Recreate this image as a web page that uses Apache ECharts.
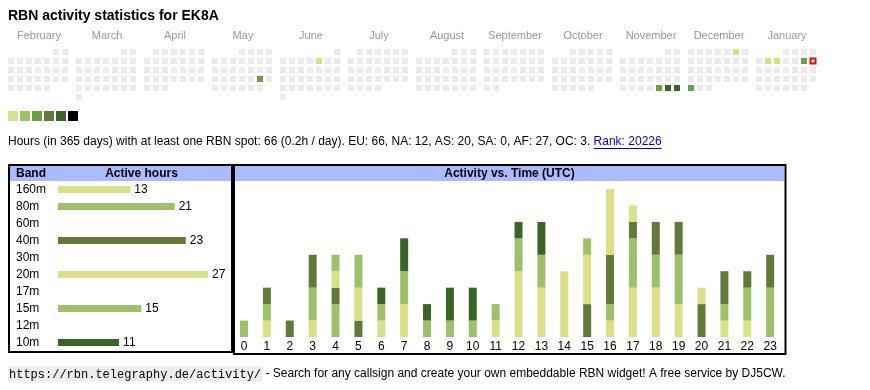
<!DOCTYPE html>
<html><head><meta charset="utf-8">
<script src="https://cdn.jsdelivr.net/npm/echarts@6/dist/echarts.min.js"></script>
<style>html,body{margin:0;padding:0;background:#fff}#c{width:870px;height:390px}</style>
</head><body><div id="c"></div>
<script>
// ---------- data ----------
const titleText = 'RBN activity statistics for EK8A';
const monthNames = ['February','March','April','May','June','July','August','September','October','November','December','January'];
const monthKeys = ['2025-02','2025-03','2025-04','2025-05','2025-06','2025-07','2025-08','2025-09','2025-10','2025-11','2025-12','2026-01'];
const activeDays = ['2025-05-24','2025-06-06','2025-11-28','2025-11-29','2025-11-30','2025-12-06','2025-12-29','2026-01-06','2026-01-07','2026-01-10'];
const activeDayHours = [6,2,6,17,17,2,6,2,2,6];
const today = '2026-01-11';

const bands = ['160m','80m','60m','40m','30m','20m','17m','15m','12m','10m'];
const bandHours = [13,21,0,23,0,27,0,15,0,11];

const hours = ['0','1','2','3','4','5','6','7','8','9','10','11','12','13','14','15','16','17','18','19','20','21','22','23'];
const hourly160m = [0,1,0,1,0,0,0,0,0,0,0,0,0,0,0,0,1,3,3,2,0,1,1,0];
const hourly80m  = [1,1,0,2,2,0,0,0,0,0,0,0,0,0,0,0,1,3,2,3,0,1,2,3];
const hourly60m  = [0,0,0,0,0,0,0,0,0,0,0,0,0,0,0,0,0,0,0,0,0,0,0,0];
const hourly40m  = [0,1,1,2,1,1,0,0,0,0,0,0,0,0,0,2,3,1,2,2,2,2,1,2];
const hourly30m  = [0,0,0,0,0,0,0,0,0,0,0,0,0,0,0,0,0,0,0,0,0,0,0,0];
const hourly20m  = [0,0,0,0,1,2,1,2,0,0,0,1,4,3,4,3,4,1,0,0,1,0,0,0];
const hourly17m  = [0,0,0,0,0,0,0,0,0,0,0,0,0,0,0,0,0,0,0,0,0,0,0,0];
const hourly15m  = [0,0,0,0,1,2,1,2,1,1,1,1,2,2,0,1,0,0,0,0,0,0,0,0];
const hourly12m  = [0,0,0,0,0,0,0,0,0,0,0,0,0,0,0,0,0,0,0,0,0,0,0,0];
const hourly10m  = [0,0,0,0,0,0,1,2,1,2,2,0,1,2,0,0,0,0,0,0,0,0,0,0];

const statsText = 'Hours (in 365 days) with at least one RBN spot: 66 (0.2h / day). EU: 66, NA: 12, AS: 20, SA: 0, AF: 27, OC: 3. ';
const rankText = 'Rank: 20226';
const footerUrl = 'https://rbn.telegraphy.de/activity/';
const footerText = ' - Search for any callsign and create your own embeddable RBN widget! A free service by DJ5CW.';
const bandHeader = 'Band';
const hoursHeader = 'Active hours';
const timeHeader = 'Activity vs. Time (UTC)';

// ---------- style ----------
const FONT = "'Liberation Sans', Arial, sans-serif";
const C_Y = '#d9e088', C_L = '#9dc16a', C_M = '#6a9f45', C_O = '#637939', C_D = '#3b6427';
const bandColors = [C_Y, C_L, C_M, C_O, C_D, C_Y, C_L, C_L, C_M, C_D];
const hourlyByBand = [hourly160m,hourly80m,hourly60m,hourly40m,hourly30m,hourly20m,hourly17m,hourly15m,hourly12m,hourly10m];
const HEADER_BG = '#aabbff';
const EMPTY = '#ebebeb';

const CAL_LEFT = 8, CAL_TOP = 49, CELL = 9, BOX = 6, MONTH_PITCH = 68;

const chart = echarts.init(document.getElementById('c'), null, {renderer:'canvas'});

const calendars = monthKeys.map((m, i) => ({
  orient: 'vertical', range: m, cellSize: [CELL, CELL],
  left: CAL_LEFT - (CELL - BOX)/2 + i*MONTH_PITCH, top: CAL_TOP - (CELL - BOX)/2,
  splitLine: {show: false},
  dayLabel: {show: false, firstDay: 1},
  monthLabel: {show: false}, yearLabel: {show: false},
  itemStyle: {color: 'transparent', borderWidth: 0}
}));

// every day of each month (calendar structure); value = active hours that day (0 if none)
function daysOf(m) {
  const [y, mo] = m.split('-').map(Number);
  const n = new Date(Date.UTC(y, mo, 0)).getUTCDate();
  const out = [];
  for (let d = 1; d <= n; d++) {
    const ds = m + '-' + String(d).padStart(2, '0');
    const k = activeDays.indexOf(ds);
    out.push([ds, k >= 0 ? activeDayHours[k] : 0]);
  }
  return out;
}

const calSeries = monthKeys.map((m, i) => ({
  type: 'custom', coordinateSystem: 'calendar', calendarIndex: i, silent: true,
  data: daysOf(m),
  renderItem: (params, api) => {
    const p = api.coord([api.value(0)]);
    return {type: 'rect', shape: {x: p[0] - BOX/2, y: p[1] - BOX/2, width: BOX, height: BOX},
      style: {fill: api.value(1) > 0 ? api.visual('color') : EMPTY}};
  }
}));

const todaySeries = {
  type: 'custom', coordinateSystem: 'calendar', calendarIndex: monthKeys.indexOf(today.slice(0,7)), silent: true,
  data: [[today, 1]],
  renderItem: (params, api) => {
    const p = api.coord([api.value(0)]);
    return {type: 'rect', shape: {x: p[0]-2.5, y: p[1]-2.5, width: 5, height: 5},
      style: {fill: '#fff', stroke: '#ff0000', lineWidth: 2}};
  }
};

const bandSeries = {
  type: 'bar', xAxisIndex: 0, yAxisIndex: 0, barWidth: 7, silent: true,
  data: bandHours.map((v, i) => ({value: v, itemStyle: {color: bandColors[i]}})),
  label: {show: true, position: 'right', distance: 4, fontSize: 12, fontFamily: FONT, color: '#000',
    formatter: p => p.value ? String(p.value) : ''}
};

const hourSeries = bands.map((b, i) => ({
  type: 'bar', name: b, stack: 'h', xAxisIndex: 1, yAxisIndex: 1, barWidth: 8, silent: true,
  itemStyle: {color: bandColors[i]}, data: hourlyByBand[i]
}));

// measure text widths for link underline
const mctx = document.createElement('canvas').getContext('2d');
mctx.font = "12px 'Liberation Sans', Arial, sans-serif";
const statsW = mctx.measureText(statsText).width;
const rankW = mctx.measureText(rankText).width;
const STATS_X = 8, STATS_Y = 142;

const txt = (x, y, text, extra) => Object.assign({type: 'text', x, y, silent: true,
  style: Object.assign({text, fontFamily: FONT, fontSize: 12, fill: '#000', textVerticalAlign: 'middle'}, extra || {})});

const graphics = [
  txt(8, 16, titleText, {fontSize: 14, fontWeight: 'bold'}),
  ...monthNames.map((n, i) => txt(CAL_LEFT + i*MONTH_PITCH + 31, 35.5, n, {fontSize: 11, fill: '#999', textAlign: 'center'})),
  txt(STATS_X, STATS_Y, statsText, {fontSize: 12}),
  txt(STATS_X + statsW, STATS_Y, rankText, {fontSize: 12, fill: '#0000ee'}),
  {type: 'line', silent: true, shape: {x1: STATS_X + statsW, y1: STATS_Y + 6.5, x2: STATS_X + statsW + rankW, y2: STATS_Y + 6.5},
    style: {stroke: '#0000ee', lineWidth: 1}},
  // boxes
  {type: 'rect', silent: true, shape: {x: 10, y: 166, width: 221, height: 15}, style: {fill: HEADER_BG}},
  {type: 'rect', silent: true, shape: {x: 235, y: 166, width: 549, height: 15}, style: {fill: HEADER_BG}},
  {type: 'rect', silent: true, shape: {x: 9, y: 165, width: 223, height: 187}, style: {fill: 'none', stroke: '#000', lineWidth: 2}},
  {type: 'rect', silent: true, shape: {x: 234, y: 165, width: 551.5, height: 189}, style: {fill: 'none', stroke: '#000', lineWidth: 2}},
  txt(16, 173.5, bandHeader, {fontWeight: 'bold'}),
  txt(141.5, 173.5, hoursHeader, {fontWeight: 'bold', textAlign: 'center'}),
  txt(509.5, 173.5, timeHeader, {fontWeight: 'bold', textAlign: 'center'}),
  // footer
  {type: 'text', x: 8, y: 374, silent: true, style: {
    text: '{u|' + footerUrl + '}{t|' + footerText + '}', textVerticalAlign: 'middle',
    rich: {
      u: {fontFamily: "'Liberation Mono', monospace", fontSize: 12, color: '#555', backgroundColor: '#eeeeee', padding: [2, 1, 1, 1]},
      t: {fontFamily: FONT, fontSize: 12, color: '#000'}
    }}}
];

chart.setOption({
  animation: false,
  backgroundColor: '#fff',
  calendar: calendars,
  visualMap: {
    type: 'piecewise', seriesIndex: calSeries.map((s, i) => i), dimension: 1, orient: 'horizontal',
    left: 8, top: 111, itemWidth: 10, itemHeight: 10, itemGap: 2, itemSymbol: 'rect',
    showLabel: false, padding: 0, selectedMode: false, hoverLink: false,
    outOfRange: {color: EMPTY},
    pieces: [
      {min: 1, max: 2, color: C_Y}, {min: 3, max: 4, color: C_L}, {min: 5, max: 8, color: C_M},
      {min: 9, max: 12, color: C_O}, {min: 13, max: 20, color: C_D}, {min: 21, color: '#000'}
    ]
  },
  grid: [
    {left: 58, top: 181, width: 150, height: 170},
    {left: 232.6, top: 189, width: 549, height: 148}
  ],
  xAxis: [
    {type: 'value', gridIndex: 0, min: 0, max: 27, show: false},
    {type: 'category', gridIndex: 1, data: hours, axisLine: {show: false}, axisTick: {show: false},
      axisLabel: {fontSize: 12, fontFamily: FONT, color: '#000', margin: 4, interval: 0}}
  ],
  yAxis: [
    {type: 'category', gridIndex: 0, data: bands, inverse: true, axisLine: {show: false}, axisTick: {show: false},
      axisLabel: {align: 'left', margin: 42, fontSize: 12, fontFamily: FONT, color: '#000'}},
    {type: 'value', gridIndex: 1, min: 0, max: 9, show: false, splitLine: {show: false}}
  ],
  graphic: graphics,
  series: [...calSeries, todaySeries, bandSeries, ...hourSeries]
});
</script></body></html>
